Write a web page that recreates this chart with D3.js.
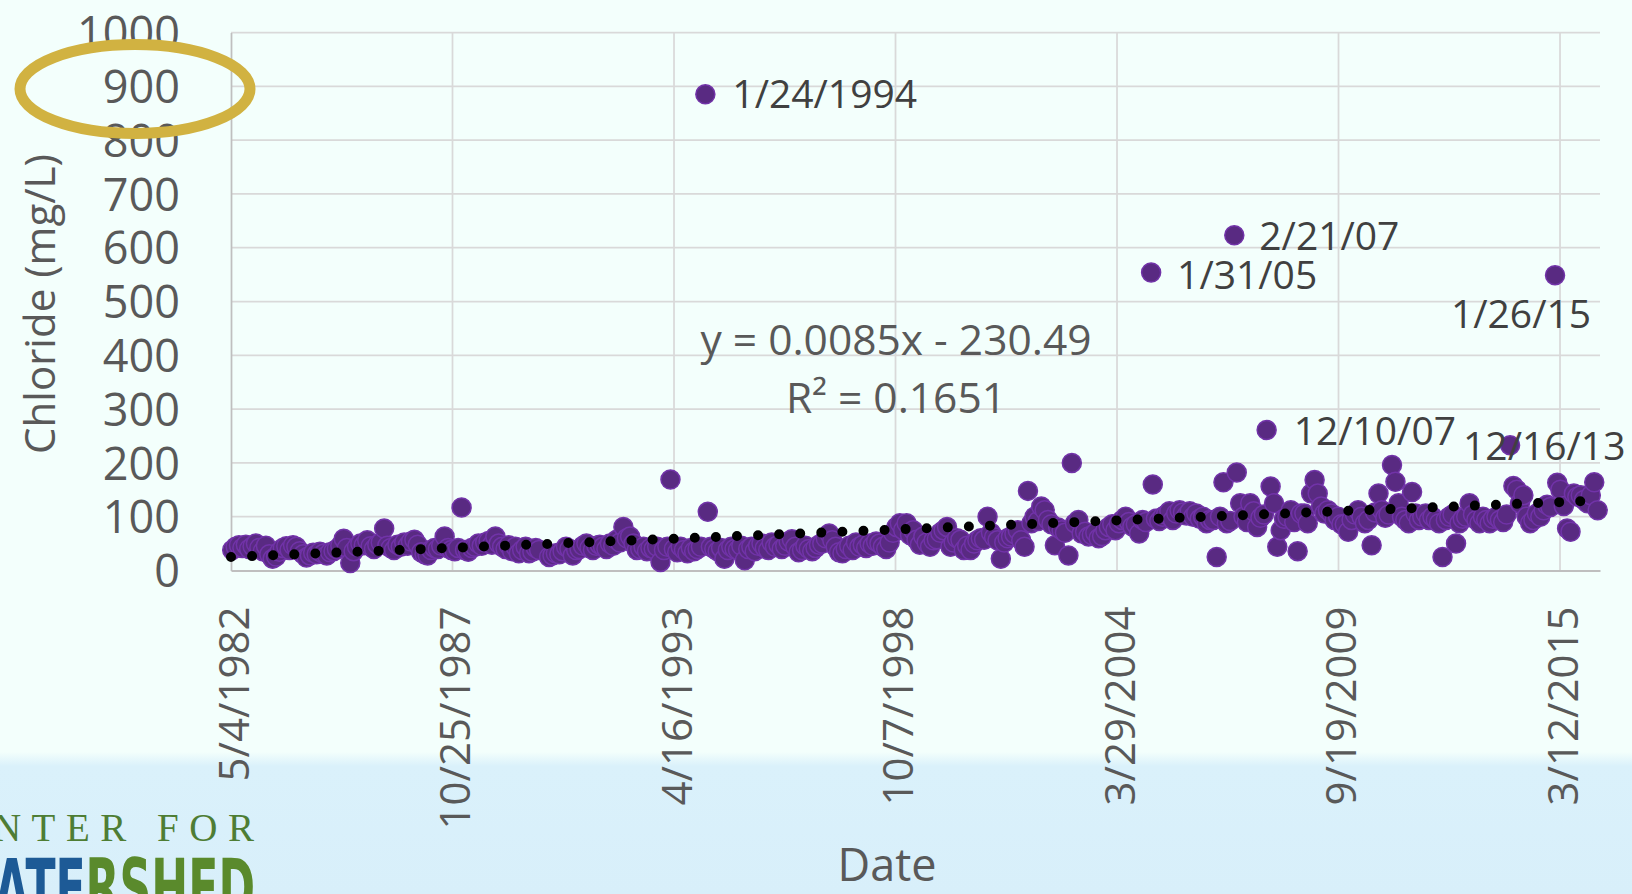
<!DOCTYPE html>
<html>
<head>
<meta charset="utf-8">
<script src="https://cdn.jsdelivr.net/npm/d3@7"></script>
<style>
  html, body { margin: 0; padding: 0; background: #f3fffc; overflow: hidden; }
  svg { display: block; }
</style>
</head>
<body>
<script>
const
  WIDTH = 1632,
  HEIGHT = 894,
  FONT = '"Open Sans", "DejaVu Sans", sans-serif';

// chloride (mg/L), one sample a month: [year, first month, values...]
const monthlySamples = [
  [1982, 5, [38, 44, 47, 42, 48, 40, 45, 50]],
  [1983, 1, [42, 36, 46, 30, 22, 26, 35, 42, 45, 38, 47, 44]],
  [1984, 1, [36, 30, 24, 28, 33, 30, 35, 31, 28, 34, 36, 40]],
  [1985, 1, [46, 59, 42, 14, 36, 44, 50, 47, 56, 45, 40, 48]],
  [1986, 1, [52, 78, 46, 42, 38, 48, 44, 52, 46, 54, 57, 48]],
  [1987, 1, [34, 30, 28, 38, 42, 40, 46, 63, 42, 38, 36, 42]],
  [1988, 1, [117, 38, 35, 42, 44, 50, 46, 52, 55, 48, 63, 50]],
  [1989, 1, [44, 40, 47, 36, 44, 32, 38, 44, 32, 35, 42, 38]],
  [1990, 3, [25, 28, 32, 30, 36, 44, 40, 28, 38, 40]],
  [1991, 1, [46, 50, 42, 38, 46, 48, 44, 40, 50, 46, 57, 52]],
  [1992, 1, [81, 60, 63, 50, 38, 40, 44, 36, 42, 40, 44, 16]],
  [1993, 1, [38, 44, 169, 40, 34, 44, 38, 32, 42, 36, 40, 44]],
  [1994, 2, [109, 44, 40, 36, 42, 22, 38, 44, 40, 38, 46]],
  [1995, 1, [19, 40, 44, 36, 46, 50, 42, 38, 52, 44, 48, 40]],
  [1996, 1, [46, 54, 58, 44, 34, 38, 46, 40, 36, 42, 48, 50]],
  [1997, 1, [60, 69, 56, 44, 34, 32, 40, 46, 38, 52, 44, 48]],
  [1998, 1, [42, 50, 46, 54, 50, 44, 40, 52, 70, 81, 88, 75]],
  [1999, 1, [88, 66, 75, 57, 48, 63, 52, 44, 56, 58, 70, 75]],
  [2000, 1, [81, 44, 52, 60, 57, 38, 46, 38, 50, 56, 60, 57]],
  [2001, 1, [100, 70, 62, 56, 22, 52, 60, 63, 68, 75, 56, 44]],
  [2002, 1, [148, 88, 100, 92, 119, 112, 94, 86, 47, 80, 75, 70]],
  [2003, 1, [28, 200, 88, 94, 69, 72, 63, 66, 70, 60, 64, 75]],
  [2004, 1, [81, 86, 75, 88, 94, 100, 90, 82, 86, 69, 94, 90]],
  [2005, 2, [160, 96, 92, 100, 104, 110, 94, 106, 112, 108, 102]],
  [2006, 1, [110, 100, 106, 96, 100, 88, 94, 94, 25, 100, 164, 88]],
  [2007, 1, [92]],
  [2007, 3, [182, 125, 100, 90, 125, 110, 81, 98, 104]],
  [2008, 1, [156, 125, 44, 75, 96, 100, 112, 90, 36, 106, 106, 88]],
  [2009, 1, [143, 168, 143, 119, 106, 112, 106, 94, 100, 86, 86, 72]],
  [2010, 1, [94, 104, 112, 100, 88, 94, 47, 108, 143, 112, 98, 104]],
  [2011, 1, [196, 165, 125, 100, 94, 88, 146, 106, 94, 100, 106, 94]],
  [2012, 1, [100, 94, 88, 25, 94, 100, 104, 50, 88, 96, 100, 125]],
  [2013, 1, [104, 94, 88, 100, 94, 88, 96, 100, 94, 90, 104]],
  [2014, 1, [157, 150, 125, 140, 100, 88, 94, 106, 100, 112, 122, 118]],
  [2015, 2, [163, 150, 120, 78, 72, 143, 137, 140, 131, 125, 140]],
  [2016, 1, [164, 112]]
];

// samples that carry a date label
const labelledDates = ['1/24/1994', '1/31/05', '2/21/07', '12/10/07', '12/16/13', '1/26/15'];
const labelledValues = [885, 554, 623, 261, 233, 549];

const xTickLabels = ['5/4/1982', '10/25/1987', '4/16/1993', '10/7/1998', '3/29/2004', '9/19/2009', '3/12/2015'];
const xAxisEnd = '3/7/2016';
const yTicks = [0, 100, 200, 300, 400, 500, 600, 700, 800, 900, 1000];

// excel linear trendline, x is the excel date serial
const trendSlope = 0.0085;
const trendIntercept = -230.49;
const trendLines = ['y = 0.0085x - 230.49', 'R\u00b2 = 0.1651'];

// where each date label sits, relative to its point: [dx, dy, anchor]
const labelPlacement = [
  [27, 14, 'start'],
  [26, 17, 'start'],
  [25, 15, 'start'],
  [27, 15, 'start'],
  [-47, 15, 'start'],
  [-34, 53, 'middle']
];

let
  parseLong = d3.utcParse('%m/%d/%Y'),
  parseShort = d3.utcParse('%m/%d/%y'),
  excelEpoch = Date.UTC(1899, 11, 30),
  xTicks = xTickLabels.map(parseLong),
  points = [],
  labelled = [];

monthlySamples.forEach(([year, month, values]) => {
  values.forEach((value, i) => {
    points.push({ date : new Date(Date.UTC(year, month - 1 + i, 15)), value });
  });
});

labelled = labelledDates.map((text, i) => ({
  date : text.split('/')[2].length === 4 ? parseLong(text) : parseShort(text),
  value : labelledValues[i],
  text,
  place : labelPlacement[i]
}));

points = points.concat(labelled).sort((a, b) => a.date - b.date);

const x = d3.scaleUtc()
  .domain([xTicks[0], parseLong(xAxisEnd)])
  .range([231, 1600]);

const y = d3.scaleLinear()
  .domain([0, 1000])
  .range([570.5, 32.5]);

const svg = d3.select('body').append('svg')
  .attr('width', WIDTH)
  .attr('height', HEIGHT)
  .style('font-family', FONT);

// background and the pale blue footer band
let defs = svg.append('defs');
let band = defs.append('linearGradient')
  .attr('id', 'band')
  .attr('x1', 0).attr('x2', 0).attr('y1', 0).attr('y2', 1);
band.append('stop').attr('offset', 0).attr('stop-color', '#f3fffc');
band.append('stop').attr('offset', 0.1).attr('stop-color', '#daf1fb');
band.append('stop').attr('offset', 1).attr('stop-color', '#d8effa');

svg.append('rect').attr('width', WIDTH).attr('height', HEIGHT).attr('fill', '#f3fffc');
svg.append('rect').attr('y', 752).attr('width', WIDTH).attr('height', HEIGHT - 752).attr('fill', 'url(#band)');

// gridlines
svg.append('g')
  .selectAll('line')
  .data(yTicks.slice(1))
  .enter()
  .append('line')
  .attr('x1', x.range()[0])
  .attr('x2', x.range()[1])
  .attr('y1', (d) => y(d))
  .attr('y2', (d) => y(d))
  .attr('stroke', '#d9d9d9')
  .attr('stroke-width', 1.75);

svg.append('g')
  .selectAll('line')
  .data(xTicks.slice(1))
  .enter()
  .append('line')
  .attr('x1', (d) => x(d))
  .attr('x2', (d) => x(d))
  .attr('y1', y(0))
  .attr('y2', y(1000))
  .attr('stroke', '#d9d9d9')
  .attr('stroke-width', 1.75);

// axes
let yAxis = svg.append('g')
  .attr('transform', `translate(${x.range()[0]},0)`)
  .call(d3.axisLeft(y)
    .tickValues(yTicks)
    .tickFormat(d3.format('d'))
    .tickSize(0)
    .tickPadding(51));

yAxis.attr('font-family', FONT).attr('font-size', 45);
yAxis.select('.domain').attr('stroke', '#bfbfbf').attr('stroke-width', 1.75);
yAxis.selectAll('text').attr('fill', '#595959').attr('dy', '0.36em');

let xAxis = svg.append('g')
  .attr('transform', `translate(0,${y(0)})`)
  .call(d3.axisBottom(x)
    .tickValues(xTicks)
    .tickFormat(d3.utcFormat('%-m/%-d/%Y'))
    .tickSize(0));

xAxis.attr('font-family', FONT).attr('font-size', 42);
xAxis.select('.domain').attr('stroke', '#bfbfbf').attr('stroke-width', 2);
xAxis.selectAll('text')
  .attr('fill', '#595959')
  .attr('transform', 'rotate(-90)')
  .attr('text-anchor', 'end')
  .attr('x', -36)
  .attr('y', 2)
  .attr('dy', '0.36em');

// axis titles
svg.append('text')
  .attr('x', 887)
  .attr('y', 881)
  .attr('text-anchor', 'middle')
  .attr('font-size', 45)
  .attr('fill', '#595959')
  .text('Date');

svg.append('text')
  .attr('transform', 'translate(40,304) rotate(-90)')
  .attr('text-anchor', 'middle')
  .attr('dy', '0.36em')
  .attr('font-size', 42)
  .attr('fill', '#595959')
  .text('Chloride (mg/L)');

// scatter
svg.append('g')
  .selectAll('circle')
  .data(points)
  .enter()
  .append('circle')
  .attr('cx', (d) => x(d.date))
  .attr('cy', (d) => y(d.value))
  .attr('r', 9.5)
  .attr('fill', '#592a82')
  .attr('stroke', '#7133a8')
  .attr('stroke-width', 1.5);

// dotted linear trendline
let
  serial = (d) => (d - excelEpoch) / 864e5,
  trendEnds = [xTicks[0], points[points.length - 1].date];

svg.append('path')
  .datum(trendEnds)
  .attr('d', d3.line()
    .x((d) => x(d))
    .y((d) => y(trendSlope * serial(d) + trendIntercept)))
  .attr('fill', 'none')
  .attr('stroke', '#000')
  .attr('stroke-width', 10)
  .attr('stroke-linecap', 'round')
  .attr('stroke-dasharray', '0 21.1');

// trendline equation
svg.append('g')
  .selectAll('text')
  .data(trendLines)
  .enter()
  .append('text')
  .attr('x', 896)
  .attr('y', (d, i) => 355 + i * 58)
  .attr('text-anchor', 'middle')
  .attr('font-size', 42.5)
  .attr('fill', '#595959')
  .text((d) => d);

// date labels on the peaks
svg.append('g')
  .selectAll('text')
  .data(labelled)
  .enter()
  .append('text')
  .attr('x', (d) => x(d.date) + d.place[0])
  .attr('y', (d) => y(d.value) + d.place[1])
  .attr('text-anchor', (d) => d.place[2])
  .attr('font-size', 39)
  .attr('fill', '#404040')
  .text((d) => d.text);

// gold highlight round the 900 tick
svg.append('ellipse')
  .attr('cx', 135)
  .attr('cy', 89)
  .attr('rx', 115)
  .attr('ry', 44.5)
  .attr('fill', 'none')
  .attr('stroke', '#d1b241')
  .attr('stroke-width', 11);

// logo, cut by the page edge
let logo = svg.append('g');

logo.append('text')
  .attr('x', -78)
  .attr('y', 841)
  .attr('font-family', '"Liberation Serif", "DejaVu Serif", serif')
  .attr('font-size', 39)
  .attr('textLength', 332)
  .attr('lengthAdjust', 'spacing')
  .attr('fill', '#4e7d34')
  .text('CENTER FOR');

let word = logo.append('text')
  .attr('x', -52)
  .attr('y', 915)
  .attr('font-family', '"DejaVu Sans", sans-serif')
  .attr('font-weight', 'bold')
  .attr('font-size', 78)
  .attr('textLength', 307)
  .attr('lengthAdjust', 'spacingAndGlyphs');

word.append('tspan').attr('fill', '#1d5a96').text('WATE');
word.append('tspan').attr('fill', '#5a8a2c').text('RSHED');
</script>
</body>
</html>
